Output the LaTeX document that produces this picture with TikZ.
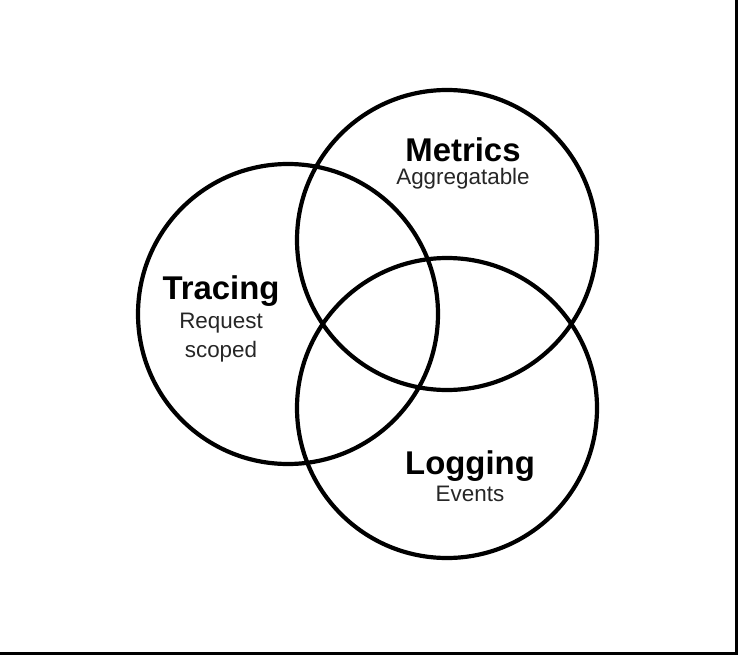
\documentclass[tikz,border=0pt]{standalone}
\usepackage{fontspec}
\setmainfont{Liberation Sans}
\begin{document}
\begin{tikzpicture}[x=1bp,y=-1bp,
  ring/.style={draw=black,line width=4.2bp,circle,minimum size=300bp,inner sep=0pt},
  title/.style={font=\fontsize{33}{36}\selectfont\bfseries,inner sep=0pt},
  sub/.style={font=\fontsize{22.5}{29}\selectfont,inner sep=0pt,align=center,text=black!85}]
  \useasboundingbox (0,0) rectangle (738,656);
  % the three overlapping sets
  \node[ring] (tracing) at (288,314) {};
  \node[ring] (metrics) at (447,240) {};
  \node[ring] (logging) at (447,408) {};
  % labels
  \node[title] (tt) at (221,291) {Tracing};
  \node[sub] (ts) at (221,338) {Request\\scoped};
  \node[title] (mt) at (463,150) {Metrics};
  \node[sub] (ms) at (463,179) {Aggregatable};
  \node[title] (lt) at (470,466) {Logging};
  \node[sub] (ls) at (470,494) {Events};
  % frame on the right and bottom edges
  \coordinate (bl) at (0,653.5);
  \coordinate (br) at (736.5,653.5);
  \coordinate (tr) at (736.5,0);
  \draw[line width=3bp] (bl) -- (br) -- (tr);
\end{tikzpicture}
\end{document}
